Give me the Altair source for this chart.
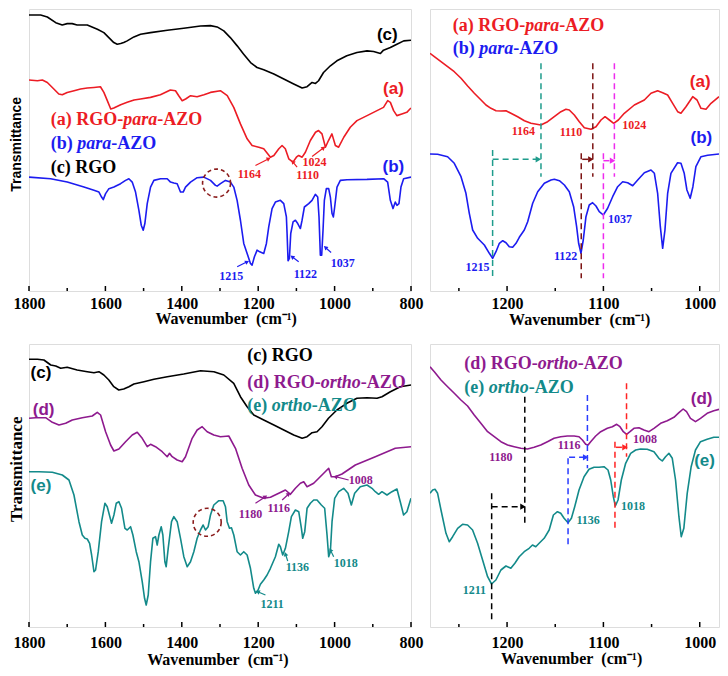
import altair as alt
import pandas as pd

# ---------------- colours / fonts ----------------
RED = "#ec1c24"
BLUE = "#1c1cf0"
BLACK = "#000000"
PURPLE = "#8e1a8e"
TEAL = "#138a8a"
CIRCLE = "#8b1c1c"
D_TEAL = "#1f9c8c"
D_BROWN = "#7d1414"
D_MAGENTA = "#ee2cee"
D_BLUE = "#2a3cff"
D_RED = "#ff2424"
SERIF = "Liberation Serif"
SANS = "Liberation Sans"
XTITLE = "Wavenumber\u2002(cm\u207b\u00b9)"

# ================= Panel 1 : 1800-800 cm-1, para series =================
P1_RGO_WN = [1800, 1769.5, 1752, 1730, 1713, 1700, 1687, 1674, 1647.5, 1621, 1604, 1591, 1578, 1569, 1560, 1552, 1543, 1525.4, 1508, 1482,
             1438, 1395, 1351, 1325, 1307.5, 1290, 1273, 1255, 1238, 1220, 1203, 1185.5, 1159, 1133, 1107, 1085, 1072, 1059, 1050, 1042,
             1029, 1011, 994, 968, 941.5, 915, 898, 880, 872, 854, 837, 819, 800]
P1_RGO_T = [276, 276, 274, 268.3, 266, 267.3, 267.3, 266, 266, 261.7, 258.3, 253.3, 248.3, 246.7, 247.3, 248.3, 250, 254, 256.7, 258.3,
            260.7, 262.7, 265, 265.3, 264, 260, 253.3, 245, 236.7, 228.3, 223.3, 221, 216.7, 211.7, 206.7, 202.7, 204, 208.3, 207.3, 210,
            218.3, 225, 230, 235, 238.3, 240, 239.3, 237.3, 240.7, 243.3, 246.7, 250, 250.7]

P1_A_WN = [1800, 1778, 1765, 1752, 1735, 1722, 1713, 1700, 1682, 1665, 1647.5, 1630, 1613, 1604, 1595, 1586, 1578, 1560, 1543, 1525,
           1508, 1482, 1456, 1430, 1416.5, 1408, 1399, 1390, 1377, 1360, 1342, 1325, 1299, 1281, 1264, 1246.5, 1229, 1216, 1198.5, 1185.5,
           1168, 1159, 1146, 1137.5, 1129, 1120, 1109, 1100, 1094, 1085, 1076.5, 1063.5, 1050, 1042, 1033, 1024, 1016, 1007, 998, 989.5,
           976, 959, 941.5, 915, 889, 872, 861, 854, 845.5, 837, 824, 811, 800]
P1_A_T = [210.7, 210, 210.7, 208.3, 201.7, 196.7, 196, 198.3, 200, 201.7, 202.7, 203.3, 204, 198.3, 190, 181.7, 182.7, 186, 188.3, 190.7,
          191.7, 193.3, 196, 200.7, 200, 195, 190, 191.7, 195, 194, 196, 198.3, 200, 195, 183.3, 166.7, 151.7, 145, 143.3, 141.7,
          133.3, 135, 141.7, 145, 141.7, 131.7, 128.3, 133.3, 135, 133.3, 138.3, 150, 158.3, 160, 156.7, 143.3, 150, 156.7, 145, 143.3,
          153.3, 163.3, 170, 175, 180, 183.3, 190, 188.3, 180, 175, 176.7, 178.3, 182.7]

P1_B_WN = [1800, 1743.3, 1699.8, 1656.2, 1630, 1616.9, 1610, 1605.6, 1599.5, 1590.8,
           1577.7, 1560.3, 1547.2, 1538.5, 1529.8, 1521.1, 1512.3, 1506.2, 1501, 1496.7,
           1490.5, 1481.8, 1473.1, 1455.7, 1438.2, 1429.5, 1420.8, 1412.1, 1403.4, 1396.4,
           1390.3, 1377.2, 1359.8, 1342.4, 1324.9, 1311.8, 1307.5, 1298.8, 1285.7, 1272.6,
           1263.9, 1255.2, 1246.5, 1237.8, 1229, 1220.3, 1216, 1209.9, 1202.9, 1196,
           1185.5, 1178.5, 1172.4, 1163.7, 1155, 1141.9, 1133.1, 1126.2, 1124.4, 1121.8,
           1118.3, 1114.8, 1108.7, 1102.6, 1096.5, 1089.6, 1085.2, 1079.1, 1067.8, 1059.1,
           1050.4, 1044.2, 1040.8, 1037.3, 1033.8, 1030.3, 1026.8, 1021.6, 1015.5, 1011.1,
           1006.7, 1003.2, 999.8, 993.7, 985, 967.5, 915.2, 871.6, 861.1, 854.1,
           847.1, 841.1, 836.7, 831.5, 826.3, 819.3, 800]
P1_B_T = [113.3, 111.7, 108.3, 103.3, 100, 98.3, 93.3, 90.7, 96.7, 101.7,
          103.3, 106.7, 110, 111.7, 108.3, 98.3, 80, 65, 60, 66.7,
          86.7, 103.3, 110, 111.7, 111.7, 108.3, 107.3, 106.7, 98.3, 98.3,
          103.3, 108.3, 112.7, 113.3, 110, 105, 104.3, 106.7, 110, 108.3,
          103.3, 90, 70, 46.7, 36.7, 26.7, 25, 33.3, 40, 38.3,
          36.7, 46.7, 63.3, 81.7, 88.3, 90, 86.7, 73.3, 56.7, 29.3,
          31.7, 56.7, 68.3, 70, 66.7, 61.7, 70, 83.3, 86.7, 90,
          96, 93.3, 73.3, 35, 35, 60, 90, 101.7, 101.7, 93.3,
          76.7, 73.3, 83.3, 103.3, 110, 110.7, 111, 111.7, 108.3, 90,
          81.7, 88.3, 85, 86.7, 103.3, 111.7, 113.3]

# ================= Panel 2 : 1280-980 cm-1, para zoom =================
P2_A_WN = [1280, 1275.5, 1268.6, 1261.7, 1254.8, 1247.8, 1240.9, 1234, 1227, 1221.9,
           1216.7, 1211.5, 1206.3, 1201.1, 1196, 1189, 1182, 1175.2, 1164.9, 1157.9,
           1151, 1144.1, 1138.9, 1135.4, 1130.2, 1125, 1119.8, 1112.9, 1107.7, 1102.5,
           1098.3, 1093.8, 1089.3, 1084.5, 1078.3, 1067.9, 1057.5, 1050.6, 1043.7, 1038.5,
           1033.3, 1028.1, 1022.9, 1019.5, 1014.3, 1007.3, 1002.8, 998.7, 993.5, 988.3, 980]
P2_A_T = [237.7, 234.3, 229.3, 224.3, 219.3, 212.7, 205, 197.7, 191, 186,
          182.7, 180.3, 180, 180.3, 177.7, 174.3, 170.3, 167.7, 166, 169.3,
          174.3, 179.3, 181.7, 181, 176, 169.3, 163.3, 161.7, 164.3, 171,
          174.3, 171, 167.7, 171, 177.7, 186, 191, 197.7, 200.3, 198.3,
          196, 187.7, 179.3, 177.7, 184.3, 194.3, 191, 182.7, 181.7, 187.7, 194.3]

P2_B_WN = [1280, 1272.1, 1261.7, 1254.8, 1247.8, 1242.7, 1239.2, 1235.7, 1230.5, 1223.6,
           1218.4, 1215, 1211.5, 1208, 1204.5, 1201.1, 1197.7, 1194.2, 1190.7, 1187.3,
           1182.1, 1178.6, 1173.4, 1168.2, 1161.3, 1154.4, 1150.9, 1145.7, 1140.5, 1135.4,
           1130.9, 1127.8, 1125.7, 1123.3, 1120.9, 1118.1, 1114.7, 1111.2, 1107.7, 1104.3,
           1100.1, 1095.6, 1090.4, 1085.2, 1080, 1074.8, 1069.6, 1064.4, 1057.5, 1050.6,
           1047.1, 1043.7, 1040.9, 1038.5, 1036.1, 1033.3, 1029.9, 1023, 1019.5, 1016.1,
           1013.3, 1009.9, 1007.1, 1004, 998.7, 991.8, 980]
P2_B_T = [137, 136.7, 134.3, 127.7, 114.3, 97.7, 77.7, 61, 52.7, 46,
          37.7, 32.7, 39.3, 47.7, 50.3, 48.3, 44.3, 43.7, 47.7, 53.7,
          61, 69.3, 87.7, 99.3, 107.7, 111, 111.7, 110.3, 106, 99.3,
          84.3, 64.3, 47.7, 37.7, 51, 74.3, 86, 88.3, 85, 79.3,
          76, 82.7, 94.3, 104.3, 109.3, 108.3, 105.3, 111, 118.3, 121,
          117.7, 97.7, 64.3, 42.7, 61, 97.7, 117.7, 128.3, 127.7, 117.7,
          101, 92.7, 104.3, 124.3, 134.3, 135.7, 137]

# ================= Panel 3 : 1800-800 cm-1, ortho series =================
P3_RGO_WN = [1800, 1778, 1761, 1743, 1730, 1717, 1700, 1674, 1647.5, 1630,
             1617, 1604, 1591, 1578, 1565, 1552, 1538.5, 1525.4, 1499, 1473,
             1438, 1395, 1351, 1316, 1290, 1264, 1246.5, 1229, 1211.6, 1185.5,
             1159, 1133, 1107, 1085, 1072, 1059, 1046, 1033, 1016, 994,
             968, 941.5, 915, 889, 876, 854, 828, 800]
P3_RGO_T = [267.7, 267.7, 267, 262, 261, 258.7, 259.7, 257, 255.3, 254.3,
            255.3, 252, 247, 240.3, 237, 238, 240.3, 243, 245.3, 247.7,
            250.3, 253, 256.3, 255.3, 252, 243.7, 230.3, 220.3, 212, 207,
            202, 197, 192, 188.7, 190.3, 194.3, 195.3, 200.3, 208.7, 217,
            223.7, 228.7, 229.3, 228.7, 230.3, 235.3, 240.3, 242]

P3_D_WN = [1800, 1782.6, 1756.4, 1739, 1721.5, 1704, 1686.7, 1660.5, 1634.4, 1621.3,
           1612.6, 1599.5, 1586.4, 1577.7, 1564.6, 1547.2, 1529.8, 1516.7, 1503.6, 1490.5,
           1481.8, 1468.8, 1451.3, 1438.2, 1432.1, 1425.2, 1412.1, 1399, 1390.3, 1372.9,
           1359.8, 1346.7, 1333.6, 1316.2, 1298.8, 1277, 1259.5, 1242.1, 1224.7, 1207.2,
           1185.5, 1168, 1146.2, 1128.8, 1115.7, 1102.6, 1089.6, 1080.8, 1072.1, 1063.4,
           1054.7, 1041.6, 1028.5, 1015.5, 1008.5, 998, 980.6, 945.7, 893.4, 841.1, 800]
P3_D_T = [208.7, 209.3, 209.3, 204.7, 202, 203.7, 207, 209.3, 211, 214.7,
          212, 195.3, 182, 176, 178, 185.3, 192, 194.7, 188.7, 180.3,
          182.7, 180.3, 175.3, 170.3, 173.7, 170.3, 167, 165.3, 170.3, 188.7,
          197, 200.3, 195.3, 192, 190.3, 191, 178.7, 158.7, 142, 132,
          128.7, 129.7, 133.7, 137, 132.7, 138.7, 143.7, 145.3, 140.3, 142,
          143.7, 148.7, 153.7, 158.7, 150.3, 150.3, 153, 162, 170.3, 178.7, 180.3]

P3_E_WN = [1800, 1773.8, 1739, 1712.8, 1695.4, 1682.3, 1669.2, 1660.5, 1653.6, 1647.5,
           1641.3, 1636.1, 1630, 1625.7, 1618.7, 1610, 1601.3, 1595.2, 1583.9, 1577.7,
           1571.6, 1564.6, 1557.7, 1548.9, 1542.8, 1534.1, 1528, 1519.3, 1512.3, 1503.6,
           1497.5, 1493.2, 1487.9, 1481.8, 1475.7, 1468.8, 1464.4, 1460, 1453.9, 1449.6,
           1444.3, 1440.9, 1435.6, 1426.9, 1420.8, 1412.1, 1403.4, 1394.7, 1385.9, 1377.2,
           1368.5, 1359.8, 1351.1, 1344.1, 1338, 1331, 1324.9, 1316.2, 1303.1, 1291.8,
           1285.7, 1281.3, 1275.2, 1270, 1263.9, 1255.2, 1246.5, 1237.8, 1229, 1220.3,
           1211.6, 1207.2, 1200.3, 1194.2, 1185.5, 1176.7, 1168, 1155, 1146.2, 1141.9,
           1135.8, 1128.8, 1120.1, 1113.1, 1102.6, 1093.9, 1086.9, 1083.5, 1078.2, 1072.1,
           1063.4, 1054.7, 1046, 1034.7, 1026, 1019.8, 1015.5, 1011.1, 1006.7, 999.8,
           989.3, 976.3, 964.9, 956.2, 947.5, 932.7, 915.2, 902.1, 893.4, 884.7,
           876, 862.9, 849.9, 836.8, 828.1, 819.4, 810.7, 800]
P3_E_T = [155.3, 155.3, 154.7, 152, 147, 132, 105.3, 92, 88.7, 88,
          83.7, 72, 55.3, 57, 75.3, 105.3, 123.7, 120.3, 103.7, 112,
          123.7, 125.3, 118.7, 98.7, 97, 100.3, 92, 75.3, 65.3, 45.3,
          28.7, 22, 32, 65.3, 88.7, 90.3, 82, 92, 100.3, 92,
          65.3, 60.3, 78.7, 105.3, 110.3, 105.3, 88.7, 70.3, 60.3, 65.3,
          75.3, 88.7, 97, 102, 97, 100.3, 112, 122, 126.3, 126.3,
          120.3, 105.3, 98.7, 99.3, 92, 75.3, 72, 75.3, 72, 58.7,
          38.7, 33.7, 37, 42.7, 47, 52, 58.7, 70.3, 82.7, 80.3,
          72, 78.7, 95.3, 110.3, 117, 115.3, 98.7, 88.7, 95.3, 118.7,
          123.7, 127, 127, 122, 118.7, 92, 70.3, 75.3, 105.3, 128.7,
          135.3, 138.7, 133.7, 122, 133.7, 140.3, 142, 138.7, 135.3, 132.7,
          135.3, 132, 135.3, 138, 125.3, 112, 115.3, 128.7]

# ================= Panel 4 : 1280-980 cm-1, ortho zoom =================
P4_D_WN = [1280, 1275.5, 1268.6, 1261.7, 1254.8, 1247.9, 1241, 1234.1, 1227.2, 1220.2,
           1213.3, 1206.4, 1199.5, 1192.6, 1185.7, 1178.8, 1171.9, 1165, 1158.1, 1151.2,
           1144.3, 1137.4, 1130.4, 1125.3, 1121.8, 1118.4, 1115.9, 1113.2, 1108, 1102.8,
           1095.9, 1090.7, 1086.2, 1082.8, 1079.3, 1075.9, 1072.4, 1068.3, 1063.1, 1057.9,
           1052.7, 1047.5, 1040.6, 1033.7, 1026.8, 1021.6, 1017.2, 1013.7, 1009.6, 1004.4,
           999.2, 992.3, 985.4, 980]
P4_D_T = [260.3, 255.3, 247, 240.3, 233.7, 227, 221, 212, 203.7, 195.3,
          190.3, 185.3, 182, 180.3, 178.7, 178, 179.7, 182, 185.3, 188.7,
          190.3, 191, 191, 190.3, 187, 182.7, 182, 185.3, 191, 195.3,
          198.7, 200.3, 202.7, 200.3, 195.3, 192.7, 195.3, 198.7, 199.3, 197,
          195.3, 198.7, 203.7, 206.3, 209.7, 214.3, 218, 215.3, 208.7, 205.3,
          208.7, 213.7, 216.3, 217.7]

P4_E_WN = [1280, 1277.2, 1274.8, 1272.1, 1268.6, 1263.4, 1260, 1256.5, 1251.3, 1246.2,
           1241, 1235.8, 1230.6, 1225.4, 1220.2, 1216.1, 1211.6, 1206.4, 1201.2, 1196.1,
           1191.9, 1187.4, 1182.2, 1177.1, 1173.6, 1170.2, 1166.7, 1161.5, 1156.3, 1151.9,
           1147.7, 1144.3, 1140.8, 1136.7, 1133.2, 1129.8, 1125.3, 1120.1, 1114.9, 1109.7,
           1104.5, 1099.4, 1095.2, 1092.4, 1089.7, 1087.6, 1084.8, 1081.4, 1076.9, 1071.7,
           1066.5, 1061.4, 1054.5, 1047.5, 1042.4, 1038.9, 1035.5, 1032, 1028.5, 1025.1,
           1021.6, 1019.2, 1016.5, 1013, 1008.9, 1004.4, 999.2, 992.3, 985.4, 980]
P4_E_T = [133.7, 137, 137.7, 133.7, 117, 93.7, 85.3, 90.3, 98.7, 102.7,
          102, 97, 83.7, 67, 50.3, 43, 47, 57, 61, 58.7,
          63.7, 70.3, 75.3, 78.7, 82, 80.3, 83.7, 88.7, 97, 112,
          115.3, 113.7, 108.7, 104.3, 108.7, 120.3, 137, 150.3, 157.7, 159.7,
          159.7, 160.3, 157, 147, 130.3, 121, 127, 147, 163.7, 173.7,
          177, 178, 177.7, 175.3, 168.7, 166, 170.3, 173.7, 168.7, 147,
          110.3, 90.3, 98.7, 133.7, 160.3, 177, 185.3, 187.7, 189.7, 189.7]

# ================= annotation content =================
# panel 1
L1_WN = [1743.3, 1743.3, 1743.3]
L1_T = [170.3, 146.3, 122]
L1_PARTS = [["(a) RGO-", "para", "-AZO"], ["(b) ", "para", "-AZO"], ["(c) RGO"]]
L1_COL = [RED, BLUE, BLACK]
C1_LABEL = ["(c)", "(a)", "(b)"]
C1_WN = [862, 846, 846]
C1_T = [256, 202, 123]
C1_COL = [BLACK, RED, BLUE]
N1_LABEL = ["1164", "1110", "1024", "1215", "1122", "1037"]
N1_WN = [1222.9, 1070.4, 1052.9, 1270.7, 1076.4, 978.9]
N1_T = [116.7, 115, 128.3, 14, 16, 27.3]
N1_COL = [RED, RED, RED, BLUE, BLUE, BLUE]
A1_WN = [1207.2, 1098.1, 1058.9, 1255, 1094, 1009.2]
A1_T = [125, 123.3, 134, 23.3, 28.3, 37.7]
A1_WN2 = [1172.4, 1109.6, 1028.6, 1228.9, 1111.2, 1024.1]
A1_T2 = [131.7, 128.7, 142.7, 28.3, 33.3, 42.7]
A1_ANG = [63, 321, 53, 63, 307, 311]
A1_COL = [RED, RED, RED, BLUE, BLUE, BLUE]
CIRC1_WN = [1309]
CIRC1_T = [107.3]

# panel 2
L2_WN = [1256.5, 1256.5]
L2_T = [265.2, 241.8]
L2_PARTS = [["(a) RGO-", "para", "-AZO"], ["(b) ", "para", "-AZO"]]
L2_COL = [RED, BLUE]
C2_LABEL = ["(a)", "(b)"]
C2_WN = [999.5, 998.3]
C2_T = [208.8, 153.5]
C2_COL = [RED, BLUE]
N2_LABEL = ["1164", "1110", "1024", "1215", "1122", "1037"]
N2_WN = [1183.1, 1133.6, 1067.9, 1230.6, 1139.2, 1082.7]
N2_T = [160.3, 158.7, 166, 23.7, 35, 71.7]
N2_COL = [RED, RED, RED, BLUE, BLUE, BLUE]
V2_WN = [1164.8, 1215, 1111, 1123, 1088.6, 1100]
V2_T = [227.7, 141, 227.7, 137.7, 227.7, 137.7]
V2_T2 = [114.3, 14.3, 114.3, 12.7, 114.3, 12.7]
V2_COL = [D_TEAL, D_TEAL, D_BROWN, D_BROWN, D_MAGENTA, D_MAGENTA]
H2_WN = [1215, 1122, 1100]
H2_WN2 = [1167.5, 1113, 1090.5]
H2_T = [131.7, 131.7, 130.3]
H2_COL = [D_TEAL, D_BROWN, D_MAGENTA]

# panel 3
L3_WN = [1228.9, 1228.9, 1228.9]
L3_T = [270.7, 244.5, 221.2]
L3_PARTS = [["(c) RGO"], ["(d) RGO-", "ortho", "-AZO"], ["(e) ", "ortho", "-AZO"]]
L3_COL = [BLACK, PURPLE, TEAL]
C3_LABEL = ["(c)", "(d)", "(e)"]
C3_WN = [1768.6, 1761.6, 1768.6]
C3_T = [254.3, 216.7, 141.2]
C3_COL = [BLACK, PURPLE, TEAL]
N3_LABEL = ["1180", "1116", "1008", "1211", "1136", "1018"]
N3_WN = [1220.2, 1146.2, 931.8, 1163.5, 1097.3, 971]
N3_T = [113, 119.3, 147, 23, 59.7, 64.3]
N3_COL = [PURPLE, PURPLE, PURPLE, TEAL, TEAL, TEAL]
A3_WN = [1207.2, 1137.3, 963.2, 1181, 1122.7, 1002.4]
A3_T = [123.7, 127, 147, 32, 66, 70.3]
A3_WN2 = [1181, 1120.1, 998, 1201.2, 1128.7, 1011]
A3_T2 = [130.3, 133, 150.3, 35.3, 73, 77]
A3_ANG = [57, 48, 284, 293, 342, 334]
A3_COL = [PURPLE, PURPLE, PURPLE, TEAL, TEAL, TEAL]
CIRC3_WN = [1333.5]
CIRC3_T = [104.7]

# panel 4
L4_WN = [1244.4, 1244.4]
L4_T = [263.3, 239.5]
L4_PARTS = [["(d) RGO-", "ortho", "-AZO"], ["(e) ", "ortho", "-AZO"]]
L4_COL = [PURPLE, TEAL]
C4_LABEL = ["(d)", "(e)"]
C4_WN = [998, 995]
C4_T = [228, 166.2]
C4_COL = [PURPLE, TEAL]
N4_LABEL = ["1180", "1116", "1008", "1211", "1136", "1018"]
N4_WN = [1206.4, 1135.6, 1056.8, 1234, 1115.9, 1069.2]
N4_T = [170, 181.7, 188.3, 36.7, 107, 121.3]
N4_COL = [PURPLE, PURPLE, PURPLE, TEAL, TEAL, TEAL]
V4_WN = [1181.6, 1216, 1116.6, 1136.7, 1076, 1088]
V4_T = [230.3, 133.7, 232, 168.7, 243.7, 185.3]
V4_T2 = [103.7, 7, 158.7, 81, 170.3, 98.7]
V4_COL = [BLACK, BLACK, D_BLUE, D_BLUE, D_RED, D_RED]
H4_WN = [1216, 1135.6, 1087]
H4_WN2 = [1183.5, 1118.4, 1077.6]
H4_T = [120.3, 169.7, 179.7]
H4_COL = [BLACK, D_BLUE, D_RED]

# tick positions
WIDE_MAJOR = [1800, 1600, 1400, 1200, 1000, 800]
WIDE_MINOR = [1700, 1500, 1300, 1100, 900]
ZOOM_MAJOR = [1200, 1100, 1000]
ZOOM_MINOR = [1250, 1150, 1050]

# segment offsets (px) for mixed upright / italic legend text at 18px
DX_A = [0, 72.5, 106.5]
DX_B = [0, 26.5, 60.5]
DX_D = [0, 73.5, 113.5]
DX_E = [0, 24.5, 64.5]


def build_panel(curves, xdom, ydom, w, h, xvals, major, minor, lpad, xtx, xty,
                ytitle, yfont, ysize, ytx, yty,
                legend, curve_labels, numbers, arrows=None, circle=None,
                vlines=None, harrows=None):
    xaxis = alt.Axis(values=xvals, format="d", labelFont=SERIF, labelFontSize=16,
                     labelFontWeight="bold", labelColor="black", labelPadding=lpad,
                     labelFlush=False, labelOverlap=False, ticks=False, tickSize=0,
                     domain=False, grid=False, title=XTITLE, titleFont=SERIF,
                     titleFontSize=16, titleFontWeight="bold", titleColor="black",
                     titleX=xtx, titleY=xty, titleAlign="left", titleBaseline="top")
    if ytitle:
        yaxis = alt.Axis(labels=False, ticks=False, domain=False, grid=False,
                         title=ytitle, titleFont=yfont, titleFontSize=ysize,
                         titleFontWeight="bold", titleColor="black", titleX=ytx,
                         titleY=yty, titleAngle=270, titleAlign="center",
                         titleBaseline="bottom")
    else:
        yaxis = alt.Axis(labels=False, ticks=False, domain=False, grid=False, title="")
    X = alt.X("wn:Q", scale=alt.Scale(domain=xdom, reverse=True, nice=False, zero=False), axis=xaxis)
    Y = alt.Y("T:Q", scale=alt.Scale(domain=ydom, nice=False, zero=False), axis=yaxis)

    layers = []
    frames = [pd.DataFrame({"wn": wn, "T": t, "series": name, "col": col}) for name, wn, t, col in curves]
    cdf = pd.concat(frames, ignore_index=True)
    layers.append(alt.Chart(cdf).mark_line(strokeWidth=1.6, clip=True, strokeJoin="round").encode(
        x=X, y=Y, detail="series:N", color=alt.Color("col:N", scale=None)))

    # inward x ticks
    layers.append(alt.Chart(pd.DataFrame({"wn": major})).mark_rule(color="black", strokeWidth=1.5).encode(
        x=X, y=alt.value(h), y2=alt.value(h - 5)))
    layers.append(alt.Chart(pd.DataFrame({"wn": minor})).mark_rule(color="black", strokeWidth=1.5).encode(
        x=X, y=alt.value(h), y2=alt.value(h - 3)))

    if vlines:
        wn, t, t2, col = vlines
        layers.append(alt.Chart(pd.DataFrame({"wn": wn, "T": t, "T2": t2, "col": col})).mark_rule(
            strokeWidth=1.5, strokeDash=[6, 4]).encode(
            x=X, y=Y, y2=alt.Y2("T2:Q"), color=alt.Color("col:N", scale=None)))
    if harrows:
        wn, wn2, t, col = harrows
        layers.append(alt.Chart(pd.DataFrame({"wn": wn, "wn2": wn2, "T": t, "col": col})).mark_rule(
            strokeWidth=1.5, strokeDash=[6, 4]).encode(
            x=X, x2=alt.X2("wn2:Q"), y=Y, color=alt.Color("col:N", scale=None)))
        layers.append(alt.Chart(pd.DataFrame({"wn": wn2, "T": t, "col": col})).mark_point(
            shape="triangle-right", filled=True, size=40, opacity=1).encode(
            x=X, y=Y, color=alt.Color("col:N", scale=None)))
    if arrows:
        wn, t, wn2, t2, ang, col = arrows
        layers.append(alt.Chart(pd.DataFrame({"wn": wn, "T": t, "wn2": wn2, "T2": t2, "col": col})).mark_rule(
            strokeWidth=1.2).encode(
            x=X, x2=alt.X2("wn2:Q"), y=Y, y2=alt.Y2("T2:Q"), color=alt.Color("col:N", scale=None)))
        layers.append(alt.Chart(pd.DataFrame({"wn": wn2, "T": t2, "ang": ang, "col": col})).mark_point(
            shape="triangle-up", filled=True, size=22, opacity=1).encode(
            x=X, y=Y, angle=alt.Angle("ang:Q", scale=None), color=alt.Color("col:N", scale=None)))
    if circle:
        wn, t = circle
        layers.append(alt.Chart(pd.DataFrame({"wn": wn, "T": t})).mark_point(
            shape="circle", size=784, filled=False, color=CIRCLE, strokeWidth=1.6,
            strokeDash=[4, 3], opacity=1).encode(x=X, y=Y))

    # numbers
    lab, wn, t, col = numbers
    layers.append(alt.Chart(pd.DataFrame({"wn": wn, "T": t, "label": lab, "col": col})).mark_text(
        font=SERIF, fontSize=12, fontWeight="bold", align="center", baseline="middle").encode(
        x=X, y=Y, text="label:N", color=alt.Color("col:N", scale=None)))
    # curve labels
    lab, wn, t, col = curve_labels
    layers.append(alt.Chart(pd.DataFrame({"wn": wn, "T": t, "label": lab, "col": col})).mark_text(
        font=SANS, fontSize=17, fontWeight="bold", align="center", baseline="middle").encode(
        x=X, y=Y, text="label:N", color=alt.Color("col:N", scale=None)))
    # legend text
    wns, ts, parts, dxs, cols = legend
    for wn, t, segs, offs, col in zip(wns, ts, parts, dxs, cols):
        for i, seg in enumerate(segs):
            mk = dict(font=SERIF, fontSize=18, fontWeight="bold", align="left",
                      baseline="middle", dx=offs[i], color=col)
            if len(segs) == 3 and i == 1:
                mk["fontStyle"] = "italic"
            layers.append(alt.Chart(pd.DataFrame({"wn": [wn], "T": [t], "label": [seg]})).mark_text(**mk).encode(
                x=X, y=Y, text="label:N"))

    return alt.layer(*layers).properties(width=w, height=h)


p1 = build_panel(
    [("c", P1_RGO_WN, P1_RGO_T, BLACK), ("a", P1_A_WN, P1_A_T, RED), ("b", P1_B_WN, P1_B_T, BLUE)],
    [800, 1800], [-1, 282], 382, 282, WIDE_MAJOR, WIDE_MAJOR, WIDE_MINOR, 4, 126, 19.5,
    "Transmittance", SANS, 14, -5.1, 134.8,
    (L1_WN, L1_T, L1_PARTS, [DX_A, DX_B, [0]], L1_COL),
    (C1_LABEL, C1_WN, C1_T, C1_COL),
    (N1_LABEL, N1_WN, N1_T, N1_COL),
    arrows=(A1_WN, A1_T, A1_WN2, A1_T2, A1_ANG, A1_COL),
    circle=(CIRC1_WN, CIRC1_T))

p2 = build_panel(
    [("a", P2_A_WN, P2_A_T, RED), ("b", P2_B_WN, P2_B_T, BLUE)],
    [980, 1280], [0, 282], 289, 282, ZOOM_MAJOR, ZOOM_MAJOR, ZOOM_MINOR, 4, 78.6, 20,
    None, SANS, 14, 0, 0,
    (L2_WN, L2_T, L2_PARTS, [DX_A, DX_B], L2_COL),
    (C2_LABEL, C2_WN, C2_T, C2_COL),
    (N2_LABEL, N2_WN, N2_T, N2_COL),
    vlines=(V2_WN, V2_T, V2_T2, V2_COL),
    harrows=(H2_WN, H2_WN2, H2_T, H2_COL))

p3 = build_panel(
    [("c", P3_RGO_WN, P3_RGO_T, BLACK), ("d", P3_D_WN, P3_D_T, PURPLE), ("e", P3_E_WN, P3_E_T, TEAL)],
    [800, 1800], [0, 283], 382, 283, WIDE_MAJOR, WIDE_MAJOR, WIDE_MINOR, 7, 117.7, 24,
    "Transmittance", SERIF, 17, -3.7, 124.8,
    (L3_WN, L3_T, L3_PARTS, [[0], DX_D, DX_E], L3_COL),
    (C3_LABEL, C3_WN, C3_T, C3_COL),
    (N3_LABEL, N3_WN, N3_T, N3_COL),
    arrows=(A3_WN, A3_T, A3_WN2, A3_T2, A3_ANG, A3_COL),
    circle=(CIRC3_WN, CIRC3_T))

p4 = build_panel(
    [("d", P4_D_WN, P4_D_T, PURPLE), ("e", P4_E_WN, P4_E_T, TEAL)],
    [980, 1280], [0, 283], 289, 283, ZOOM_MAJOR, ZOOM_MAJOR, ZOOM_MINOR, 7, 70.4, 23,
    None, SANS, 14, 0, 0,
    (L4_WN, L4_T, L4_PARTS, [DX_D, DX_E], L4_COL),
    (C4_LABEL, C4_WN, C4_T, C4_COL),
    (N4_LABEL, N4_WN, N4_T, N4_COL),
    vlines=(V4_WN, V4_T, V4_T2, V4_COL),
    harrows=(H4_WN, H4_WN2, H4_T, H4_COL))

chart = alt.concat(p1, p2, p3, p4, columns=2, spacing={"row": 53, "column": 19}, bounds="flush").properties(
    padding={"left": -2, "top": 0, "right": 0, "bottom": 0}
).configure_view(stroke="black", strokeWidth=2).configure(background="white")

chart.save("out.html", embed_options={"renderer": "svg", "actions": False})
